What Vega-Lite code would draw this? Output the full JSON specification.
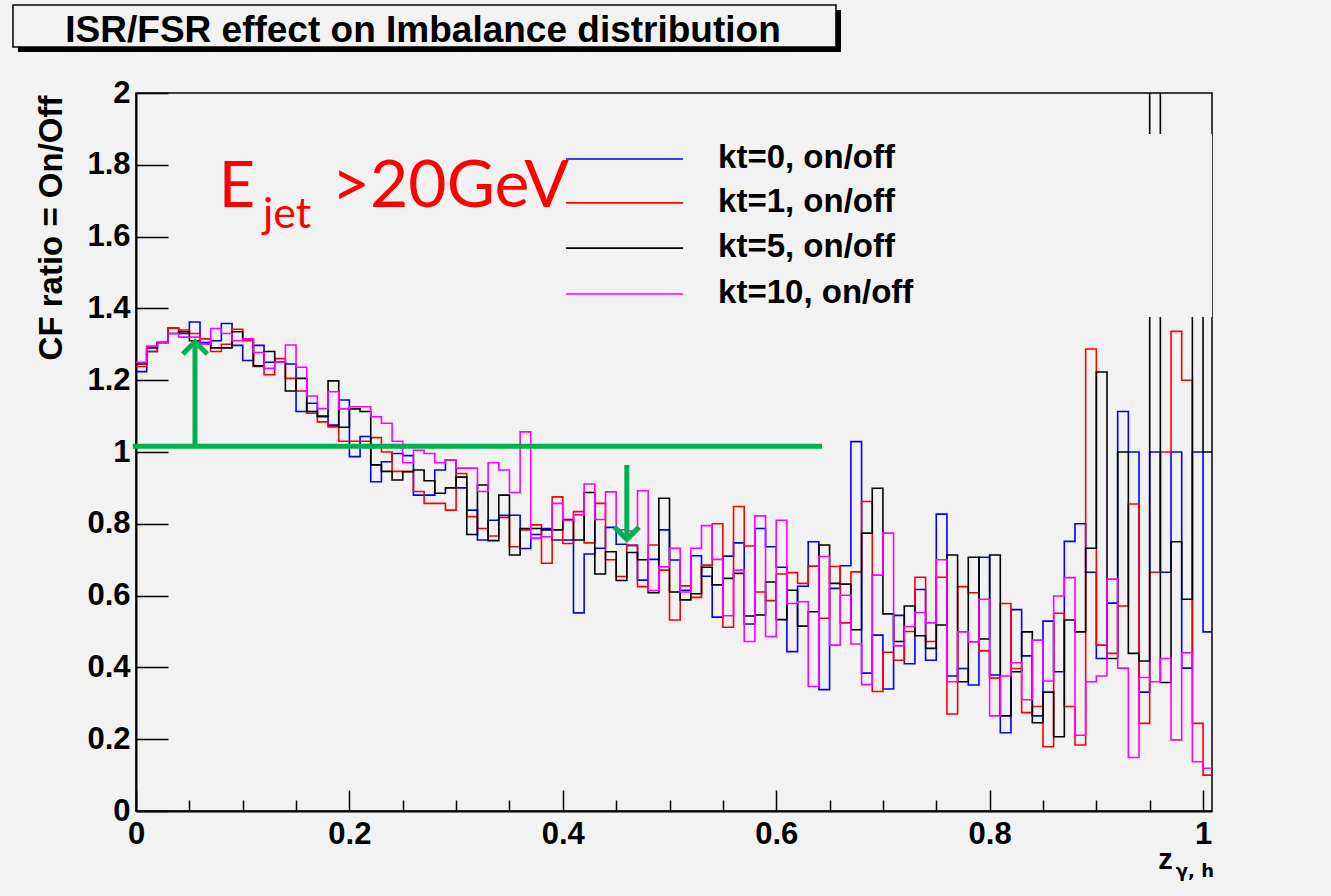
{
  "$schema": "https://vega.github.io/schema/vega-lite/v6.json",
  "width": 1076,
  "height": 718,
  "autosize": "none",
  "padding": {"left": 136, "top": 93, "right": 119, "bottom": 85},
  "background": "#f2f2f2",
  "config": {
    "view": {"stroke": "#000000", "strokeWidth": 1.5},
    "axis": {"grid": false, "domainColor": "#000000", "domainWidth": 2, "tickColor": "#000000", "tickWidth": 1.5, "labelColor": "#000000", "labelFont": "Liberation Sans", "labelFontWeight": "bold", "labelFontSize": 31, "labelFlush": false, "labelOverlap": false, "titleFont": "Liberation Sans", "titleFontWeight": "bold", "titleColor": "#000000"}
  },
  "datasets": {
    "h": [
      {"z": 0.00, "kt0": 1.224, "kt1": 1.238, "kt5": 1.245, "kt10": 1.25},
      {"z": 0.01, "kt0": 1.28, "kt1": 1.28, "kt5": 1.29, "kt10": 1.295},
      {"z": 0.02, "kt0": 1.305, "kt1": 1.305, "kt5": 1.305, "kt10": 1.305},
      {"z": 0.03, "kt0": 1.345, "kt1": 1.345, "kt5": 1.33, "kt10": 1.33},
      {"z": 0.04, "kt0": 1.33, "kt1": 1.34, "kt5": 1.335, "kt10": 1.32},
      {"z": 0.05, "kt0": 1.362, "kt1": 1.33, "kt5": 1.31, "kt10": 1.32},
      {"z": 0.06, "kt0": 1.305, "kt1": 1.315, "kt5": 1.30, "kt10": 1.30},
      {"z": 0.07, "kt0": 1.31, "kt1": 1.28, "kt5": 1.29, "kt10": 1.344},
      {"z": 0.08, "kt0": 1.358, "kt1": 1.30, "kt5": 1.29, "kt10": 1.33},
      {"z": 0.09, "kt0": 1.297, "kt1": 1.342, "kt5": 1.335, "kt10": 1.31},
      {"z": 0.10, "kt0": 1.255, "kt1": 1.31, "kt5": 1.315, "kt10": 1.315},
      {"z": 0.11, "kt0": 1.297, "kt1": 1.238, "kt5": 1.24, "kt10": 1.277},
      {"z": 0.12, "kt0": 1.25, "kt1": 1.215, "kt5": 1.28, "kt10": 1.233},
      {"z": 0.13, "kt0": 1.25, "kt1": 1.26, "kt5": 1.25, "kt10": 1.25},
      {"z": 0.14, "kt0": 1.245, "kt1": 1.205, "kt5": 1.17, "kt10": 1.298},
      {"z": 0.15, "kt0": 1.113, "kt1": 1.17, "kt5": 1.205, "kt10": 1.236},
      {"z": 0.16, "kt0": 1.136, "kt1": 1.108, "kt5": 1.113, "kt10": 1.156},
      {"z": 0.17, "kt0": 1.098, "kt1": 1.084, "kt5": 1.10, "kt10": 1.121},
      {"z": 0.18, "kt0": 1.075, "kt1": 1.07, "kt5": 1.198, "kt10": 1.168},
      {"z": 0.19, "kt0": 1.145, "kt1": 1.03, "kt5": 1.069, "kt10": 1.12},
      {"z": 0.20, "kt0": 0.987, "kt1": 1.03, "kt5": 1.12, "kt10": 1.126},
      {"z": 0.21, "kt0": 1.043, "kt1": 1.03, "kt5": 1.113, "kt10": 1.126},
      {"z": 0.22, "kt0": 0.917, "kt1": 1.04, "kt5": 0.964, "kt10": 1.098},
      {"z": 0.23, "kt0": 0.973, "kt1": 1.0, "kt5": 0.946, "kt10": 1.08},
      {"z": 0.24, "kt0": 0.996, "kt1": 0.946, "kt5": 0.922, "kt10": 1.03},
      {"z": 0.25, "kt0": 0.99, "kt1": 0.946, "kt5": 0.945, "kt10": 0.97},
      {"z": 0.26, "kt0": 0.88, "kt1": 0.89, "kt5": 0.95, "kt10": 1.005},
      {"z": 0.27, "kt0": 0.88, "kt1": 0.857, "kt5": 0.92, "kt10": 0.996},
      {"z": 0.28, "kt0": 0.95, "kt1": 0.857, "kt5": 0.885, "kt10": 0.97},
      {"z": 0.29, "kt0": 0.978, "kt1": 0.838, "kt5": 0.90, "kt10": 0.978},
      {"z": 0.30, "kt0": 0.90, "kt1": 0.94, "kt5": 0.93, "kt10": 0.955},
      {"z": 0.31, "kt0": 0.838, "kt1": 0.82, "kt5": 0.77, "kt10": 0.955},
      {"z": 0.32, "kt0": 0.755, "kt1": 0.787, "kt5": 0.908, "kt10": 0.89},
      {"z": 0.33, "kt0": 0.81, "kt1": 0.766, "kt5": 0.753, "kt10": 0.97},
      {"z": 0.34, "kt0": 0.824, "kt1": 0.818, "kt5": 0.88, "kt10": 0.95},
      {"z": 0.35, "kt0": 0.824, "kt1": 0.736, "kt5": 0.713, "kt10": 0.887},
      {"z": 0.36, "kt0": 0.731, "kt1": 0.783, "kt5": 0.787, "kt10": 1.056},
      {"z": 0.37, "kt0": 0.77, "kt1": 0.797, "kt5": 0.787, "kt10": 0.76},
      {"z": 0.38, "kt0": 0.787, "kt1": 0.69, "kt5": 0.783, "kt10": 0.764},
      {"z": 0.39, "kt0": 0.755, "kt1": 0.875, "kt5": 0.783, "kt10": 0.857},
      {"z": 0.40, "kt0": 0.755, "kt1": 0.745, "kt5": 0.812, "kt10": 0.81},
      {"z": 0.41, "kt0": 0.552, "kt1": 0.834, "kt5": 0.755, "kt10": 0.825},
      {"z": 0.42, "kt0": 0.716, "kt1": 0.747, "kt5": 0.887, "kt10": 0.911},
      {"z": 0.43, "kt0": 0.732, "kt1": 0.857, "kt5": 0.66, "kt10": 0.812},
      {"z": 0.44, "kt0": 0.79, "kt1": 0.70, "kt5": 0.722, "kt10": 0.889},
      {"z": 0.45, "kt0": 0.743, "kt1": 0.653, "kt5": 0.642, "kt10": 0.783},
      {"z": 0.46, "kt0": 0.74, "kt1": 0.74, "kt5": 0.72, "kt10": 0.78},
      {"z": 0.47, "kt0": 0.643, "kt1": 0.625, "kt5": 0.70, "kt10": 0.892},
      {"z": 0.48, "kt0": 0.701, "kt1": 0.741, "kt5": 0.608, "kt10": 0.614},
      {"z": 0.49, "kt0": 0.783, "kt1": 0.671, "kt5": 0.871, "kt10": 0.68},
      {"z": 0.50, "kt0": 0.699, "kt1": 0.532, "kt5": 0.61, "kt10": 0.732},
      {"z": 0.51, "kt0": 0.615, "kt1": 0.627, "kt5": 0.588, "kt10": 0.61},
      {"z": 0.52, "kt0": 0.711, "kt1": 0.595, "kt5": 0.605, "kt10": 0.732},
      {"z": 0.53, "kt0": 0.654, "kt1": 0.685, "kt5": 0.679, "kt10": 0.795},
      {"z": 0.54, "kt0": 0.54, "kt1": 0.8, "kt5": 0.63, "kt10": 0.701},
      {"z": 0.55, "kt0": 0.71, "kt1": 0.512, "kt5": 0.648, "kt10": 0.544},
      {"z": 0.56, "kt0": 0.747, "kt1": 0.848, "kt5": 0.662, "kt10": 0.671},
      {"z": 0.57, "kt0": 0.521, "kt1": 0.738, "kt5": 0.543, "kt10": 0.472},
      {"z": 0.58, "kt0": 0.787, "kt1": 0.61, "kt5": 0.546, "kt10": 0.822},
      {"z": 0.59, "kt0": 0.736, "kt1": 0.586, "kt5": 0.638, "kt10": 0.486},
      {"z": 0.60, "kt0": 0.679, "kt1": 0.66, "kt5": 0.533, "kt10": 0.81},
      {"z": 0.61, "kt0": 0.444, "kt1": 0.664, "kt5": 0.615, "kt10": 0.578},
      {"z": 0.62, "kt0": 0.626, "kt1": 0.634, "kt5": 0.515, "kt10": 0.583},
      {"z": 0.63, "kt0": 0.75, "kt1": 0.682, "kt5": 0.555, "kt10": 0.347},
      {"z": 0.64, "kt0": 0.338, "kt1": 0.537, "kt5": 0.741, "kt10": 0.709},
      {"z": 0.65, "kt0": 0.62, "kt1": 0.681, "kt5": 0.634, "kt10": 0.462},
      {"z": 0.66, "kt0": 0.683, "kt1": 0.524, "kt5": 0.632, "kt10": 0.601},
      {"z": 0.67, "kt0": 1.029, "kt1": 0.666, "kt5": 0.505, "kt10": 0.465},
      {"z": 0.68, "kt0": 0.384, "kt1": 0.862, "kt5": 0.774, "kt10": 0.352},
      {"z": 0.69, "kt0": 0.49, "kt1": 0.333, "kt5": 0.899, "kt10": 0.657},
      {"z": 0.70, "kt0": 0.34, "kt1": 0.442, "kt5": 0.549, "kt10": 0.774},
      {"z": 0.71, "kt0": 0.545, "kt1": 0.42, "kt5": 0.472, "kt10": 0.46},
      {"z": 0.72, "kt0": 0.41, "kt1": 0.5, "kt5": 0.571, "kt10": 0.514},
      {"z": 0.73, "kt0": 0.617, "kt1": 0.651, "kt5": 0.488, "kt10": 0.553},
      {"z": 0.74, "kt0": 0.42, "kt1": 0.472, "kt5": 0.453, "kt10": 0.524},
      {"z": 0.75, "kt0": 0.827, "kt1": 0.651, "kt5": 0.518, "kt10": 0.7},
      {"z": 0.76, "kt0": 0.376, "kt1": 0.27, "kt5": 0.713, "kt10": 0.36},
      {"z": 0.77, "kt0": 0.397, "kt1": 0.625, "kt5": 0.36, "kt10": 0.499},
      {"z": 0.78, "kt0": 0.351, "kt1": 0.608, "kt5": 0.707, "kt10": 0.471},
      {"z": 0.79, "kt0": 0.707, "kt1": 0.446, "kt5": 0.479, "kt10": 0.59},
      {"z": 0.80, "kt0": 0.379, "kt1": 0.37, "kt5": 0.713, "kt10": 0.265},
      {"z": 0.81, "kt0": 0.218, "kt1": 0.578, "kt5": 0.265, "kt10": 0.376},
      {"z": 0.82, "kt0": 0.561, "kt1": 0.397, "kt5": 0.388, "kt10": 0.413},
      {"z": 0.83, "kt0": 0.432, "kt1": 0.274, "kt5": 0.499, "kt10": 0.31},
      {"z": 0.84, "kt0": 0.265, "kt1": 0.291, "kt5": 0.246, "kt10": 0.476},
      {"z": 0.85, "kt0": 0.529, "kt1": 0.179, "kt5": 0.331, "kt10": 0.362},
      {"z": 0.86, "kt0": 0.388, "kt1": 0.551, "kt5": 0.207, "kt10": 0.599},
      {"z": 0.87, "kt0": 0.751, "kt1": 0.291, "kt5": 0.532, "kt10": 0.65},
      {"z": 0.88, "kt0": 0.8, "kt1": 0.184, "kt5": 0.499, "kt10": 0.211},
      {"z": 0.89, "kt0": 0.665, "kt1": 1.287, "kt5": 0.732, "kt10": 0.36},
      {"z": 0.90, "kt0": 0.425, "kt1": 0.462, "kt5": 1.223, "kt10": 0.376},
      {"z": 0.91, "kt0": 0.579, "kt1": 0.439, "kt5": 0.425, "kt10": 0.646},
      {"z": 0.92, "kt0": 1.113, "kt1": 0.571, "kt5": 1.0, "kt10": 0.398},
      {"z": 0.93, "kt0": 1.0, "kt1": 0.855, "kt5": 0.439, "kt10": 0.149},
      {"z": 0.94, "kt0": 0.331, "kt1": 0.244, "kt5": 0.418, "kt10": 0.372},
      {"z": 0.95, "kt0": 1.0, "kt1": 0.665, "kt5": 2.5, "kt10": 0.36},
      {"z": 0.96, "kt0": 0.665, "kt1": 1.0, "kt5": 0.358, "kt10": 0.425},
      {"z": 0.97, "kt0": 1.0, "kt1": 1.336, "kt5": 0.75, "kt10": 0.198},
      {"z": 0.98, "kt0": 0.398, "kt1": 1.2, "kt5": 0.59, "kt10": 0.441},
      {"z": 0.99, "kt0": 1.0, "kt1": 0.244, "kt5": 1.6, "kt10": 0.137},
      {"z": 1.00, "kt0": 0.499, "kt1": 0.1, "kt5": 1.0, "kt10": 0.119},
      {"z": 1.01, "kt0": 0.499, "kt1": 0.1, "kt5": 1.0, "kt10": 0.119}
    ]
  },
  "layer": [
    {
      "data": {"name": "h"},
      "mark": {"type": "line", "interpolate": "step-after", "color": "#0000ff", "strokeWidth": 1.6, "clip": true},
      "encoding": {
        "x": {"field": "z", "type": "quantitative", "scale": {"domain": [0, 1.0084], "nice": false, "zero": false},
          "axis": {"title": null, "values": [0,0.05,0.1,0.15,0.2,0.25,0.3,0.35,0.4,0.45,0.5,0.55,0.6,0.65,0.7,0.75,0.8,0.85,0.9,0.95,1],
            "labelExpr": "abs(datum.value*5-round(datum.value*5))<0.001 ? (datum.value == round(datum.value) ? format(datum.value,'d') : format(datum.value,'.1f')) : ''",
            "tickSize": {"condition": {"test": "abs(datum.value*5-round(datum.value*5))<0.001", "value": -21}, "value": -11},
            "labelPadding": 29}},
        "y": {"field": "kt0", "type": "quantitative", "scale": {"domain": [0, 2], "nice": false, "zero": false},
          "axis": {"title": "CF ratio = On/Off", "titleFontSize": 33, "titleX": -68, "titleY": 2, "titleAlign": "right", "titleBaseline": "bottom", "titleAngle": 270,
            "values": [0,0.05,0.1,0.15,0.2,0.25,0.3,0.35,0.4,0.45,0.5,0.55,0.6,0.65,0.7,0.75,0.8,0.85,0.9,0.95,1,1.05,1.1,1.15,1.2,1.25,1.3,1.35,1.4,1.45,1.5,1.55,1.6,1.65,1.7,1.75,1.8,1.85,1.9,1.95,2],
            "labelExpr": "abs(datum.value*5-round(datum.value*5))<0.001 ? (datum.value == round(datum.value) ? format(datum.value,'d') : format(datum.value,'.1f')) : ''",
            "tickSize": {"condition": {"test": "abs(datum.value*5-round(datum.value*5))<0.001", "value": -32}, "value": -16},
            "labelPadding": 38}}
      }
    },
    {
      "data": {"name": "h"},
      "mark": {"type": "line", "interpolate": "step-after", "color": "#ff0000", "strokeWidth": 1.6, "clip": true},
      "encoding": {
        "x": {"field": "z", "type": "quantitative", "title": null},
        "y": {"field": "kt1", "type": "quantitative", "title": "CF ratio = On/Off"}
      }
    },
    {
      "data": {"name": "h"},
      "mark": {"type": "line", "interpolate": "step-after", "color": "#000000", "strokeWidth": 1.6, "clip": true},
      "encoding": {
        "x": {"field": "z", "type": "quantitative", "title": null},
        "y": {"field": "kt5", "type": "quantitative", "title": "CF ratio = On/Off"}
      }
    },
    {
      "data": {"name": "h"},
      "mark": {"type": "line", "interpolate": "step-after", "color": "#ff00ff", "strokeWidth": 1.6, "clip": true},
      "encoding": {
        "x": {"field": "z", "type": "quantitative", "title": null},
        "y": {"field": "kt10", "type": "quantitative", "title": "CF ratio = On/Off"}
      }
    },
    {
      "data": {"values": [{}]},
      "mark": {"type": "rect", "color": "#f2f2f2", "clip": true},
      "encoding": {"x": {"datum": 0.9}, "x2": {"datum": 1.0084}, "y": {"datum": 1.376}, "y2": {"datum": 1.886}}
    },
    {
      "data": {"values": [{}]},
      "mark": {"type": "rule", "color": "#00b050", "strokeWidth": 5, "clip": false},
      "encoding": {"x": {"datum": -0.003}, "x2": {"datum": 0.643}, "y": {"datum": 1.016}}
    },
    {
      "data": {"values": [{}]},
      "mark": {"type": "rule", "color": "#00b050", "strokeWidth": 5},
      "encoding": {"x": {"datum": 0.0553}, "y": {"datum": 1.016}, "y2": {"datum": 1.30}}
    },
    {
      "data": {"values": [{}]},
      "mark": {"type": "point", "shape": "M-1,0.55L0,-0.45L1,0.55", "filled": false, "color": "#00b050", "strokeWidth": 5, "size": 600, "opacity": 1},
      "encoding": {"x": {"datum": 0.0553}, "y": {"datum": 1.292}}
    },
    {
      "data": {"values": [{}]},
      "mark": {"type": "rule", "color": "#00b050", "strokeWidth": 5},
      "encoding": {"x": {"datum": 0.460}, "y": {"datum": 0.964}, "y2": {"datum": 0.765}}
    },
    {
      "data": {"values": [{}]},
      "mark": {"type": "point", "shape": "M-1,-0.55L0,0.45L1,-0.55", "filled": false, "color": "#00b050", "strokeWidth": 5, "size": 600, "opacity": 1},
      "encoding": {"x": {"datum": 0.460}, "y": {"datum": 0.772}}
    },
    {
      "data": {"values": [{}]},
      "mark": {"type": "rule", "color": "#0000ff", "strokeWidth": 1.6},
      "encoding": {"x": {"datum": 0.403}, "x2": {"datum": 0.5127}, "y": {"datum": 1.816}}
    },
    {
      "data": {"values": [{}]},
      "mark": {"type": "rule", "color": "#ff0000", "strokeWidth": 1.6},
      "encoding": {"x": {"datum": 0.403}, "x2": {"datum": 0.5127}, "y": {"datum": 1.694}}
    },
    {
      "data": {"values": [{}]},
      "mark": {"type": "rule", "color": "#000000", "strokeWidth": 1.6},
      "encoding": {"x": {"datum": 0.403}, "x2": {"datum": 0.5127}, "y": {"datum": 1.568}}
    },
    {
      "data": {"values": [{}]},
      "mark": {"type": "rule", "color": "#ff00ff", "strokeWidth": 1.6},
      "encoding": {"x": {"datum": 0.403}, "x2": {"datum": 0.5127}, "y": {"datum": 1.440}}
    },
    {
      "data": {"values": [{"label": "kt=0, on/off", "yy": 1.791}, {"label": "kt=1, on/off", "yy": 1.669}, {"label": "kt=5, on/off", "yy": 1.543}, {"label": "kt=10, on/off", "yy": 1.415}]},
      "mark": {"type": "text", "align": "left", "baseline": "alphabetic", "font": "Liberation Sans", "fontWeight": "bold", "fontSize": 33, "color": "#000000"},
      "encoding": {"x": {"datum": 0.5455}, "y": {"field": "yy", "type": "quantitative"}, "text": {"field": "label"}}
    },
    {
      "data": {"values": [{}]},
      "mark": {"type": "text", "text": "E", "align": "left", "baseline": "alphabetic", "font": "Lato", "fontSize": 63, "color": "#ff0000"},
      "encoding": {"x": {"datum": 0.0775}, "y": {"datum": 1.6825}}
    },
    {
      "data": {"values": [{}]},
      "mark": {"type": "text", "text": "jet", "align": "left", "baseline": "alphabetic", "font": "Lato", "fontSize": 43, "color": "#ff0000"},
      "encoding": {"x": {"datum": 0.119}, "y": {"datum": 1.625}}
    },
    {
      "data": {"values": [{}]},
      "mark": {"type": "text", "text": ">20GeV", "align": "left", "baseline": "alphabetic", "font": "Lato", "fontSize": 66, "color": "#ff0000"},
      "encoding": {"x": {"datum": 0.1835}, "y": {"datum": 1.6825}}
    },
    {
      "data": {"values": [{}]},
      "mark": {"type": "rect", "color": "#000000", "clip": false},
      "encoding": {"x": {"datum": -0.1106}, "x2": {"datum": 0.6607}, "y": {"datum": 2.114}, "y2": {"datum": 2.231}}
    },
    {
      "data": {"values": [{}]},
      "mark": {"type": "rect", "fill": "#f2f2f2", "stroke": "#000000", "strokeWidth": 1.5, "clip": false},
      "encoding": {"x": {"datum": -0.1153}, "x2": {"datum": 0.656}, "y": {"datum": 2.128}, "y2": {"datum": 2.245}}
    },
    {
      "data": {"values": [{}]},
      "mark": {"type": "text", "text": "ISR/FSR effect on Imbalance distribution", "align": "center", "baseline": "alphabetic", "font": "Liberation Sans", "fontWeight": "bold", "fontSize": 37, "color": "#000000", "clip": false},
      "encoding": {"x": {"datum": 0.269}, "y": {"datum": 2.142}}
    },
    {
      "data": {"values": [{}]},
      "mark": {"type": "text", "text": "z", "align": "left", "baseline": "alphabetic", "font": "Liberation Sans", "fontWeight": "bold", "fontSize": 29, "color": "#000000", "clip": false},
      "encoding": {"x": {"datum": 0.958}, "y": {"datum": -0.1616}}
    },
    {
      "data": {"values": [{}]},
      "mark": {"type": "text", "text": "γ, h", "align": "left", "baseline": "alphabetic", "font": "DejaVu Sans", "fontWeight": "bold", "fontSize": 18, "color": "#000000", "clip": false},
      "encoding": {"x": {"datum": 0.9745}, "y": {"datum": -0.1838}}
    }
  ]
}
